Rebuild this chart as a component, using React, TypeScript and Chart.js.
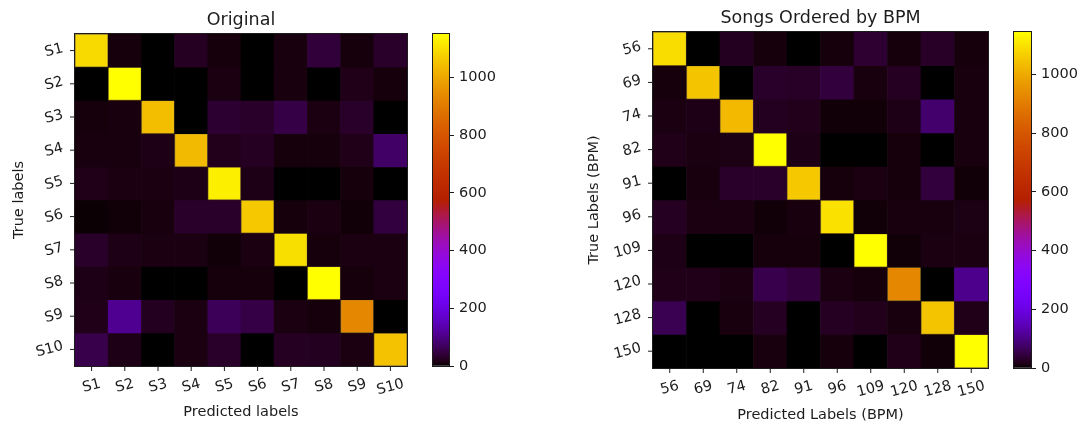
import React, { useEffect, useRef } from 'react';
import { Chart, registerables } from 'chart.js';

Chart.register(...registerables);

// ---------------- data ----------------
const leftLabels = ['S1', 'S2', 'S3', 'S4', 'S5', 'S6', 'S7', 'S8', 'S9', 'S10'];
const leftMatrix = [
  [1090, 8, 0, 25, 8, 0, 10, 42, 8, 30],
  [0, 1150, 0, 0, 12, 0, 10, 0, 18, 8],
  [8, 10, 1042, 0, 35, 30, 50, 12, 30, 0],
  [10, 10, 15, 1035, 20, 25, 8, 8, 18, 75],
  [18, 12, 12, 15, 1127, 15, 0, 0, 8, 0],
  [2, 6, 10, 30, 30, 1060, 8, 12, 6, 45],
  [30, 15, 12, 12, 6, 12, 1100, 8, 12, 12],
  [15, 10, 0, 0, 8, 8, 0, 1150, 8, 12],
  [18, 110, 22, 12, 65, 50, 12, 8, 930, 0],
  [55, 15, 0, 12, 30, 0, 25, 22, 12, 1050],
];
const leftVmax = 1150;

const rightLabels = ['56', '69', '74', '82', '91', '96', '109', '120', '128', '150'];
const rightMatrix = [
  [1090, 0, 22, 8, 0, 8, 35, 8, 28, 8],
  [8, 1048, 0, 30, 28, 45, 10, 25, 0, 10],
  [12, 15, 1028, 22, 20, 6, 6, 15, 80, 10],
  [18, 12, 14, 1145, 15, 0, 0, 8, 0, 10],
  [0, 10, 30, 30, 1056, 8, 12, 8, 45, 5],
  [25, 12, 12, 6, 10, 1098, 6, 10, 10, 14],
  [15, 0, 0, 8, 8, 0, 1145, 6, 12, 12],
  [18, 18, 12, 55, 45, 12, 8, 926, 0, 105],
  [60, 0, 10, 25, 0, 25, 20, 10, 1048, 18],
  [0, 0, 0, 10, 0, 8, 0, 18, 6, 1145],
];
const rightVmax = 1145;

const colorbarTicks = [0, 200, 400, 600, 800, 1000];

// ---------------- style ----------------
const W = 1090;
const H = 426;
const FONT = "'DejaVu Sans', sans-serif";
const TEXT = '#1c1c1c';
const TICK_FS = 14.5;
const TITLE_FS = 17.5;
const ROT = (15 * Math.PI) / 180;

Chart.defaults.font.family = FONT;

function gnuplot(t: number) {
  const x = Math.max(0, Math.min(1, t));
  const r = Math.sqrt(x);
  const g = x * x * x;
  const b = Math.max(0, Math.sin(2 * Math.PI * x));
  return `rgb(${Math.round(r * 255)},${Math.round(g * 255)},${Math.round(b * 255)})`;
}

type Area = { l: number; t: number; r: number; b: number };
type Texts = { title: string; xlabel: string; ylabel: string; titleY: number; xlabelY: number; ylabelX: number };

function heatmapConfig(labels: string[], matrix: number[][], vmax: number, area: Area, txt: Texts): any {
  const datasets = matrix.map((row, r) => ({
    data: row.map(() => [r - 0.5, r + 0.5]),
    backgroundColor: row.map((v) => gnuplot(v / vmax)),
    borderColor: row.map((v, c) => (c === r ? 'rgba(120,95,0,0.8)' : 'rgba(0,0,0,0)')),
    borderWidth: row.map((v, c) => (c === r ? 1 : 0)),
    borderSkipped: false,
    grouped: false,
    barPercentage: 1,
    categoryPercentage: 1,
  }));
  return {
    type: 'bar',
    data: { labels, datasets },
    options: {
      responsive: false,
      animation: false,
      events: [],
      layout: { padding: { left: area.l, top: area.t, right: W - area.r, bottom: H - area.b } },
      plugins: { legend: { display: false }, tooltip: { enabled: false } },
      scales: {
        x: { type: 'category', offset: true, display: false },
        y: { type: 'linear', min: -0.5, max: 9.5, reverse: true, display: false },
      },
    },
    plugins: [
      {
        id: 'decor',
        afterDraw(chart: any) {
          const ctx = chart.ctx;
          const { left, right, top, bottom } = chart.chartArea;
          const xs = chart.scales.x;
          const ys = chart.scales.y;
          ctx.save();
          ctx.strokeStyle = TEXT;
          ctx.fillStyle = TEXT;
          ctx.lineWidth = 1;
          ctx.strokeRect(left - 0.5, top - 0.5, right - left + 1, bottom - top + 1);
          ctx.font = `${TICK_FS}px ${FONT}`;
          const h = TICK_FS * 1.1;
          labels.forEach((lab, i) => {
            const px = xs.getPixelForValue(i);
            ctx.beginPath();
            ctx.moveTo(px, bottom);
            ctx.lineTo(px, bottom + 5);
            ctx.stroke();
            const w = ctx.measureText(lab).width;
            const bh = w * Math.sin(ROT) + h * Math.cos(ROT);
            ctx.save();
            ctx.translate(px, bottom + 10 + bh / 2);
            ctx.rotate(-ROT);
            ctx.textAlign = 'center';
            ctx.textBaseline = 'middle';
            ctx.fillText(lab, 0, 0);
            ctx.restore();
          });
          labels.forEach((lab, i) => {
            const py = ys.getPixelForValue(i);
            ctx.beginPath();
            ctx.moveTo(left - 5, py);
            ctx.lineTo(left, py);
            ctx.stroke();
            const w = ctx.measureText(lab).width;
            const bw = w * Math.cos(ROT) + h * Math.sin(ROT);
            ctx.save();
            ctx.translate(left - 10 - bw / 2, py);
            ctx.rotate(-ROT);
            ctx.textAlign = 'center';
            ctx.textBaseline = 'middle';
            ctx.fillText(lab, 0, 0);
            ctx.restore();
          });
          // axis labels
          ctx.textAlign = 'center';
          ctx.textBaseline = 'middle';
          ctx.fillText(txt.xlabel, (left + right) / 2, txt.xlabelY);
          ctx.save();
          ctx.translate(txt.ylabelX, (top + bottom) / 2);
          ctx.rotate(-Math.PI / 2);
          ctx.fillText(txt.ylabel, 0, 0);
          ctx.restore();
          // title
          ctx.font = `${TITLE_FS}px ${FONT}`;
          ctx.textBaseline = 'alphabetic';
          ctx.fillText(txt.title, (left + right) / 2, txt.titleY);
          ctx.restore();
        },
      },
    ],
  };
}

function colorbarConfig(vmax: number, area: Area): any {
  const AXW = 60;
  return {
    type: 'bar',
    data: {
      labels: ['cb'],
      datasets: [
        {
          data: [[0, vmax]],
          backgroundColor: (c: any) => {
            const ca = c.chart.chartArea;
            if (!ca) return '#000';
            const g = c.chart.ctx.createLinearGradient(0, ca.bottom, 0, ca.top);
            for (let i = 0; i <= 100; i++) g.addColorStop(i / 100, gnuplot(i / 100));
            return g;
          },
          borderWidth: 0,
          barPercentage: 1,
          categoryPercentage: 1,
        },
      ],
    },
    options: {
      responsive: false,
      animation: false,
      events: [],
      layout: { padding: { left: area.l, top: area.t, bottom: H - area.b, right: W - area.r - AXW } },
      plugins: { legend: { display: false }, tooltip: { enabled: false } },
      scales: {
        x: { type: 'category', offset: true, display: false },
        y: {
          type: 'linear',
          position: 'right',
          min: 0,
          max: vmax,
          afterFit: (s: any) => {
            s.width = AXW;
          },
          afterBuildTicks: (s: any) => {
            s.ticks = colorbarTicks.map((v) => ({ value: v }));
          },
          ticks: {
            font: { family: FONT, size: TICK_FS },
            color: TEXT,
            padding: 5,
            callback: (v: any) => String(v),
          },
          grid: { drawOnChartArea: false, drawTicks: true, tickLength: 5, color: TEXT, lineWidth: 1 },
          border: { display: true, color: TEXT, width: 1 },
        },
      },
    },
    plugins: [
      {
        id: 'cbframe',
        afterDraw(chart: any) {
          const ctx = chart.ctx;
          const { left, right, top, bottom } = chart.chartArea;
          ctx.save();
          ctx.strokeStyle = TEXT;
          ctx.lineWidth = 1;
          ctx.strokeRect(left - 0.5, top - 0.5, right - left + 1, bottom - top + 1);
          ctx.restore();
        },
      },
    ],
  };
}

function ChartCanvas({ make }: { make: () => any }) {
  const ref = useRef<HTMLCanvasElement | null>(null);
  useEffect(() => {
    const chart = new Chart(ref.current as HTMLCanvasElement, make());
    return () => chart.destroy();
  }, []);
  return (
    <canvas
      ref={ref}
      width={W}
      height={H}
      style={{ position: 'absolute', left: 0, top: 0, width: W, height: H }}
    />
  );
}

export default function App() {
  return (
    <div style={{ position: 'fixed', left: 0, top: 0, width: W, height: H, background: '#fff', overflow: 'hidden' }}>
      <ChartCanvas
        make={() =>
          heatmapConfig(leftLabels, leftMatrix, leftVmax, { l: 75, t: 34, r: 407, b: 366 }, {
            title: 'Original',
            xlabel: 'Predicted labels',
            ylabel: 'True labels',
            titleY: 24.5,
            xlabelY: 412,
            ylabelX: 19,
          })
        }
      />
      <ChartCanvas make={() => colorbarConfig(leftVmax, { l: 433, t: 34, r: 449, b: 366 })} />
      <ChartCanvas
        make={() =>
          heatmapConfig(rightLabels, rightMatrix, rightVmax, { l: 653, t: 32, r: 988, b: 368 }, {
            title: 'Songs Ordered by BPM',
            xlabel: 'Predicted Labels (BPM)',
            ylabel: 'True Labels (BPM)',
            titleY: 22.5,
            xlabelY: 415,
            ylabelX: 594,
          })
        }
      />
      <ChartCanvas make={() => colorbarConfig(rightVmax, { l: 1014, t: 32, r: 1031, b: 368 })} />
    </div>
  );
}
